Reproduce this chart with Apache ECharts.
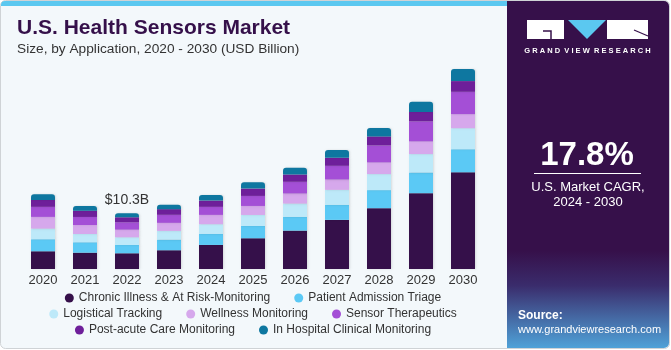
<!DOCTYPE html>
<html>
<head>
<meta charset="utf-8">
<script src="https://cdn.jsdelivr.net/npm/echarts@6/dist/echarts.min.js"></script>
<style>
  html, body { margin: 0; padding: 0; background: #fff; }
  #chart { width: 671px; height: 350px; }
</style>
</head>
<body>
<div id="chart"></div>
<script>
// categories
var years = ['2020', '2021', '2022', '2023', '2024', '2025', '2026', '2027', '2028', '2029', '2030'];

// series values (USD Billion)
var chronicIllness   = [3.27, 3.01, 2.90, 3.46, 4.44, 5.67, 7.08, 9.06, 11.22, 13.99, 17.84];
var patientAdmission = [2.22, 1.92, 1.53, 1.96, 2.03, 2.27, 2.53, 2.77, 3.33, 3.81, 4.25];
var logisticalTrack  = [1.96, 1.53, 1.42, 1.61, 1.79, 2.03, 2.46, 2.77, 2.96, 3.40, 3.88];
var wellnessMonitor  = [2.16, 1.66, 1.40, 1.48, 1.72, 1.66, 1.85, 1.90, 2.14, 2.33, 2.59];
var sensorTherapy    = [1.85, 1.48, 1.37, 1.48, 1.48, 1.85, 2.16, 2.53, 3.14, 3.70, 4.12];
var postAcuteCare    = [1.29, 1.16, 0.92, 1.05, 1.16, 1.35, 1.35, 1.48, 1.66, 1.74, 1.98];
var inHospital       = [1.05, 0.87, 0.74, 0.79, 1.05, 1.18, 1.24, 1.42, 1.55, 1.90, 2.22];

var seriesNames = [
  'Chronic Illness & At Risk-Monitoring',
  'Patient Admission Triage',
  'Logistical Tracking',
  'Wellness Monitoring',
  'Sensor Therapeutics',
  'Post-acute Care Monitoring',
  'In Hospital Clinical Monitoring'
];
var seriesData = [chronicIllness, patientAdmission, logisticalTrack, wellnessMonitor, sensorTherapy, postAcuteCare, inHospital];
var seriesColors = ['#35104a', '#5bc9f5', '#bde9f9', '#d6a8ec', '#a44fd6', '#6e1f9a', '#0e77a0'];

// annotated bar
var calloutIndex = 2;
var calloutText = '$10.3B';

var legendRows = [
  [0, 1],
  [2, 3, 4],
  [5, 6]
];

var FONT = '"Liberation Sans", Arial, sans-serif';

// measure legend rows so they can be centred under the plot
var ctx = document.createElement('canvas').getContext('2d');
ctx.font = '12px ' + FONT;
function rowWidth(row) {
  var w = 0;
  row.forEach(function (idx, i) {
    w += 9 + 5 + ctx.measureText(seriesNames[idx]).width;
    if (i > 0) w += 24;
  });
  return w;
}

var chart = echarts.init(document.getElementById('chart'));

var series = seriesData.map(function (data, i) {
  var isTop = i === seriesData.length - 1;
  return {
    name: seriesNames[i],
    type: 'bar',
    stack: 'total',
    barWidth: 24,
    data: data.map(function (v, j) {
      var item = { value: v };
      if (isTop && j === calloutIndex) {
        item.label = {
          show: true,
          position: 'top',
          distance: 6,
          formatter: calloutText,
          color: '#333',
          fontSize: 14,
          fontFamily: FONT
        };
      }
      return item;
    }),
    itemStyle: {
      color: seriesColors[i],
      borderRadius: isTop ? [3, 3, 0, 0] : 0,
      shadowColor: 'rgba(0,0,0,0.12)',
      shadowBlur: 2,
      shadowOffsetX: 1
    },
    emphasis: { disabled: true }
  };
});

var legends = legendRows.map(function (row, r) {
  return {
    left: 253 - rowWidth(row) / 2,
    top: 292 + r * 16,
    padding: 0,
    itemGap: 24,
    itemWidth: 9,
    itemHeight: 9,
    icon: 'circle',
    data: row.map(function (i) { return seriesNames[i]; }),
    textStyle: { color: '#333', fontSize: 12, fontFamily: FONT, padding: [0, 0, 0, 0] },
    selectedMode: false
  };
});

var option = {
  animation: false,
  backgroundColor: '#fff',
  textStyle: { fontFamily: FONT },
  title: {
    text: 'U.S. Health Sensors Market',
    subtext: 'Size, by Application, 2020 - 2030 (USD Billion)',
    left: 17,
    top: 18,
    padding: 0,
    itemGap: 3,
    textStyle: { color: '#35104a', fontSize: 21, fontWeight: 900, fontFamily: FONT },
    subtextStyle: { color: '#333', fontSize: 13.7, fontFamily: FONT }
  },
  legend: legends,
  grid: { left: 22, width: 462, top: 63, bottom: 81, containLabel: false },
  xAxis: {
    type: 'category',
    data: years,
    axisLine: { show: false },
    axisTick: { show: false },
    axisLabel: { color: '#333', fontSize: 13, margin: 5, fontFamily: FONT }
  },
  yAxis: {
    type: 'value',
    min: 0,
    max: 38,
    show: false,
    splitLine: { show: false }
  },
  graphic: [
    // left panel
    { type: 'rect', z: -10, shape: { x: 0.5, y: 0.5, width: 669, height: 348, r: 5 },
      style: { fill: '#f3f8fb', stroke: '#cfd3d6', lineWidth: 1 } },
    { type: 'rect', z: -9, shape: { x: 1, y: 1, width: 506, height: 5, r: [4, 0, 0, 0] },
      style: { fill: '#5bc8f0' } },
    // right panel
    { type: 'rect', z: -8, shape: { x: 507, y: 1, width: 162, height: 347, r: [0, 5, 5, 0] },
      style: {
        fill: new echarts.graphic.LinearGradient(0, 0, 0, 1, [
          { offset: 0, color: '#36104a' },
          { offset: 0.72, color: '#36104a' },
          { offset: 0.82, color: '#3a2c6c' },
          { offset: 1, color: '#4fa2d8' }
        ])
      } },
    // logo
    { type: 'rect', shape: { x: 527, y: 20, width: 37, height: 19 }, style: { fill: '#fff' } },
    { type: 'polyline', shape: { points: [[543, 31], [551, 31], [551, 39]] },
      style: { stroke: '#36104a', lineWidth: 1.5, fill: null } },
    { type: 'polygon', shape: { points: [[568, 20], [606, 20], [587, 39]] }, style: { fill: '#5bc8f0' } },
    { type: 'rect', shape: { x: 607, y: 20, width: 41, height: 19 }, style: { fill: '#fff' } },
    { type: 'line', shape: { x1: 634, y1: 30, x2: 648, y2: 36 },
      style: { stroke: '#36104a', lineWidth: 1.2 } },
    { type: 'text', x: 587.5, y: 51, style: {
        text: 'G R A N D  V I E W  R E S E A R C H', fill: '#fff', font: 'bold 7.5px ' + FONT,
        align: 'center', verticalAlign: 'middle' } },
    // CAGR
    { type: 'text', x: 587, y: 156, style: {
        text: '17.8%', fill: '#fff', font: 'bold 33px ' + FONT, align: 'center', verticalAlign: 'middle' } },
    { type: 'line', shape: { x1: 534, y1: 173.5, x2: 641, y2: 173.5 },
      style: { stroke: '#fff', lineWidth: 1 } },
    { type: 'text', x: 588, y: 187, style: {
        text: 'U.S. Market CAGR,', fill: '#fff', font: '13px ' + FONT, align: 'center', verticalAlign: 'middle' } },
    { type: 'text', x: 588, y: 202, style: {
        text: '2024 - 2030', fill: '#fff', font: '13px ' + FONT, align: 'center', verticalAlign: 'middle' } },
    // source
    { type: 'text', x: 518, y: 316, style: {
        text: 'Source:', fill: '#fff', font: 'bold 12px ' + FONT, verticalAlign: 'middle' } },
    { type: 'text', x: 518, y: 330, style: {
        text: 'www.grandviewresearch.com', fill: '#fff', font: '11px ' + FONT, verticalAlign: 'middle' } }
  ],
  series: series
};

chart.setOption(option);
</script>
</body>
</html>
